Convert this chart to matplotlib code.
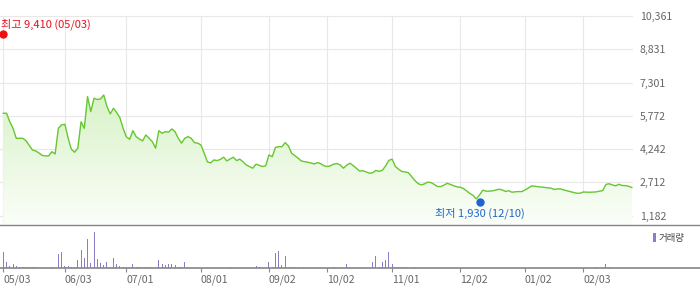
import matplotlib
matplotlib.use('Agg')
import matplotlib.pyplot as plt
import matplotlib.transforms as mtrans
import numpy as np
from matplotlib.colors import LinearSegmentedColormap
from matplotlib.patches import Rectangle

plt.rcParams['font.family'] = ['Noto Sans CJK KR', 'DejaVu Sans']

# ---------------- data ----------------
prices = [
    5890, 5890, 5500, 5200, 4740, 4740, 4740, 4630, 4415, 4200,
    4160, 4065, 3955, 3930, 3930, 4125, 4020, 5200, 5355, 5385,
    4755, 4235, 4100, 4285, 5500, 5200, 6655, 5965, 6580, 6525,
    6550, 6730, 6195, 5860, 6120, 5920, 5685, 5190, 4800, 4695,
    5090, 4815, 4710, 4620, 4895, 4740, 4585, 4285, 5090, 4970,
    5045, 5020, 5170, 5045, 4740, 4515, 4740, 4815, 4740, 4540,
    4515, 4435, 4055, 3655, 3610, 3745, 3715, 3770, 3870, 3700,
    3790, 3870, 3715, 3780, 3655, 3515, 3440, 3365, 3550, 3500,
    3440, 3485, 3975, 3895, 4320, 4355, 4355, 4540, 4390, 4050,
    3935, 3825, 3695, 3670, 3640, 3605, 3560, 3625, 3570, 3475,
    3440, 3480, 3555, 3580, 3515, 3365, 3505, 3595, 3485, 3355,
    3230, 3250, 3195, 3135, 3155, 3265, 3220, 3270, 3470, 3725,
    3780, 3445, 3320, 3215, 3195, 3160, 2980, 2805, 2660, 2595,
    2645, 2725, 2705, 2620, 2525, 2520, 2585, 2670, 2620, 2560,
    2510, 2490, 2435, 2320, 2205, 2115, 1955, 2140, 2355, 2310,
    2310, 2325, 2360, 2400, 2365, 2295, 2330, 2260, 2280, 2290,
    2290, 2360, 2450, 2550, 2540, 2515, 2500, 2485, 2465, 2450,
    2390, 2415, 2415, 2365, 2325, 2290, 2250, 2215, 2215, 2270,
    2265, 2260, 2265, 2275, 2310, 2335, 2620, 2650, 2595, 2555,
    2625, 2570, 2565, 2535, 2475,
]

volumes = [
    1670, 670, 270, 400, 270, 170, 170, 170, 170, 170,
    170, 0, 0, 0, 0, 170, 0, 1430, 1670, 270,
    270, 170, 170, 830, 1830, 1070, 2930, 570, 3670, 930,
    570, 330, 670, 170, 1070, 430, 270, 170, 170, 170,
    430, 170, 170, 0, 170, 170, 0, 0, 870, 430,
    330, 430, 430, 330, 170, 170, 670, 170, 0, 0,
    0, 0, 0, 0, 0, 0, 0, 0, 0, 0,
    170, 0, 0, 0, 0, 0, 0, 0, 270, 130,
    0, 0, 670, 170, 1570, 1770, 330, 1270, 170, 170,
    170, 170, 0, 0, 0, 0, 0, 0, 0, 0,
    0, 0, 170, 0, 0, 0, 430, 170, 0, 0,
    0, 0, 0, 0, 670, 1270, 170, 670, 830, 1670,
    430, 170, 170, 170, 170, 0, 0, 170, 0, 0,
    0, 0, 0, 0, 0, 0, 0, 0, 0, 0,
    0, 0, 0, 0, 0, 0, 0, 0, 0, 0,
    0, 0, 0, 0, 0, 0, 0, 0, 0, 0,
    0, 0, 0, 0, 0, 0, 0, 0, 0, 0,
    0, 0, 0, 0, 0, 0, 0, 0, 0, 0,
    0, 0, 0, 170, 0, 0, 430, 170, 0, 0,
    0, 0, 0, 0, 0,
]

tick_idx = [0, 19, 38, 61, 82, 100, 120, 141, 161, 179]
tick_labels = ['05/03', '06/03', '07/01', '08/01', '09/02',
               '10/02', '11/01', '12/02', '01/02', '02/03']
price_ticks = [1182, 2712, 4242, 5772, 7301, 8831, 10361]

high_idx, high_val, high_label = 0, 9410, '최고 9,410 (05/03)'
low_idx, low_val, low_label = 147, 1930, '최저 1,930 (12/10)'

# ---------------- layout ----------------
W, H = 700, 289
fig = plt.figure(figsize=(W / 100, H / 100), dpi=100)
fig.patch.set_facecolor('white')

px_per_idx = 3.24
x0_px = 3.3
ax_right_px = 633
ax = fig.add_axes([0, (H - 225) / H, ax_right_px / W, (225 - 14) / H])
axv = fig.add_axes([0, (H - 268.3) / H, 1, (268.3 - 225) / H])

x = np.arange(len(prices))

val_per_px = (price_ticks[-1] - price_ticks[0]) / (215.7 - 16)
ylim_top = price_ticks[-1] + (16 - 14) * val_per_px
ylim_bot = price_ticks[-1] - (225 - 16) * val_per_px
xlim = (-x0_px / px_per_idx, (ax_right_px - x0_px) / px_per_idx)

# gradient fill under the line
poly = ax.fill_between(x, prices, ylim_bot, color='none', lw=0)
cmap = LinearSegmentedColormap.from_list('g', ['#c3ebaa', '#fbfef9'])
grad = np.linspace(0, 1, 256).reshape(-1, 1)
im = ax.imshow(grad, extent=[xlim[0], xlim[1], ylim_bot, ylim_top],
               aspect='auto', cmap=cmap, origin='upper', zorder=1)
im.set_clip_path(poly.get_paths()[0], transform=ax.transData)

ax.plot(x, prices, color='#66c72f', lw=1.0, zorder=3, solid_joinstyle='round')

ax.set_xlim(*xlim)
ax.set_ylim(ylim_bot, ylim_top)

# grid
for t in price_ticks:
    ax.axhline(t, color='#e8e8e8', lw=0.8, zorder=0)
ax.vlines(tick_idx, ylim_bot, price_ticks[-1], color='#e8e8e8', lw=0.8, zorder=0)

for s in ax.spines.values():
    s.set_visible(False)
ax.set_xticks([])
ax.yaxis.tick_right()
ax.set_yticks(price_ticks, [f'{v:,}' for v in price_ticks])
ax.tick_params(axis='y', length=0, pad=5, labelsize=7.6, labelcolor='#666666')

# high / low markers
red_tr = mtrans.offset_copy(ax.transData, fig=fig, x=0, y=2.5, units='dots')
ax.plot([high_idx], [high_val], 'o', color='#ee1111', ms=5, transform=red_tr,
        zorder=5, clip_on=False)
ax.annotate(high_label, xy=(high_idx, high_val), xytext=(-2.5, 12.5),
            textcoords='offset pixels', ha='left', va='center',
            fontsize=8, color='#e8101a', zorder=6)

blue_tr = mtrans.offset_copy(ax.transData, fig=fig, x=0, y=-2.8, units='dots')
ax.plot([low_idx], [low_val], 'o', color='#1a64d8', ms=5, transform=blue_tr,
        zorder=5, clip_on=False)
ax.annotate(low_label, xy=(low_idx, low_val), xytext=(0, -13.5),
            textcoords='offset pixels', ha='center', va='center',
            fontsize=8, color='#1f66cc', zorder=6)

# ---------------- volume ----------------
axv.bar(x, volumes, width=1.0 / px_per_idx, color='#8f7cc6', lw=0,
        antialiased=False, zorder=2)
axv.set_xlim(-x0_px / px_per_idx, (W - x0_px) / px_per_idx)
axv.set_ylim(0, 4330)
axv.set_yticks([])
for side in ['left', 'right']:
    axv.spines[side].set_visible(False)
axv.spines['top'].set_color('#858585')
axv.spines['top'].set_linewidth(1.0)
axv.spines['bottom'].set_color('#858585')
axv.spines['bottom'].set_linewidth(1.2)
axv.set_xticks(tick_idx, tick_labels)
for lab in axv.get_xticklabels():
    lab.set_ha('left')
axv.tick_params(axis='x', direction='out', length=2.6, width=0.8, color='#888888',
                pad=2, labelsize=7.6, labelcolor='#666666')
axv.set_facecolor('none')

# legend "거래량"
fig.add_artist(Rectangle((653 / W, (H - 242) / H), 2.6 / W, 9 / H,
                         transform=fig.transFigure, color='#8f7cc6', lw=0))
fig.text(658.5 / W, (H - 238) / H, '거래량', ha='left', va='center',
         fontsize=6.8, color='#444444')

fig.savefig('out.png', dpi=100, facecolor='white')
